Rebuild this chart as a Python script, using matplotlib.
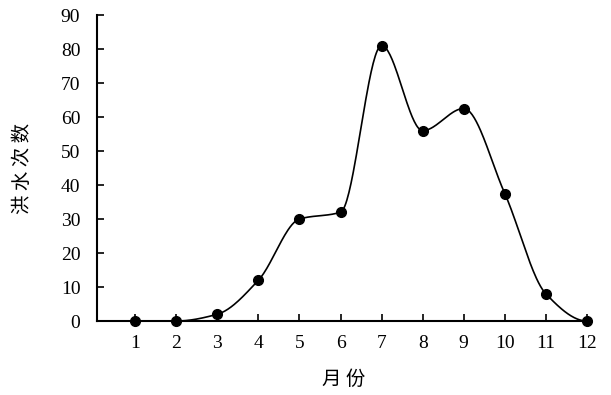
import matplotlib.pyplot as plt
import numpy as np

months = [1, 2, 3, 4, 5, 6, 7, 8, 9, 10, 11, 12]
floods = [0, 0, 2, 12, 30, 32, 81, 56, 62.5, 37.5, 8, 0]
y_ticks = [0, 10, 20, 30, 40, 50, 60, 70, 80, 90]
x_label = "月 份"
y_label = "洪 水 次 数"


def pchip_curve(xs, ys, n=40):
    """Shape-preserving cubic (Fritsch-Carlson), no overshoot at peaks."""
    x = np.asarray(xs, float)
    y = np.asarray(ys, float)
    h = np.diff(x)
    m = np.diff(y) / h
    d = np.zeros_like(y)
    for k in range(1, len(x) - 1):
        if m[k - 1] * m[k] > 0:
            w1 = 2 * h[k] + h[k - 1]
            w2 = h[k] + 2 * h[k - 1]
            d[k] = (w1 + w2) / (w1 / m[k - 1] + w2 / m[k])

    def end_slope(h0, h1, m0, m1):
        s = ((2 * h0 + h1) * m0 - h0 * m1) / (h0 + h1)
        if np.sign(s) != np.sign(m0):
            return 0.0
        if np.sign(m0) != np.sign(m1) and abs(s) > 3 * abs(m0):
            return 3 * m0
        return s

    d[0] = end_slope(h[0], h[1], m[0], m[1])
    d[-1] = end_slope(h[-1], h[-2], m[-1], m[-2])

    cx, cy = [], []
    t = np.linspace(0, 1, n)
    for k in range(len(x) - 1):
        h00 = 2 * t ** 3 - 3 * t ** 2 + 1
        h10 = t ** 3 - 2 * t ** 2 + t
        h01 = -2 * t ** 3 + 3 * t ** 2
        h11 = t ** 3 - t ** 2
        seg = h00 * y[k] + h10 * h[k] * d[k] + h01 * y[k + 1] + h11 * h[k] * d[k + 1]
        cx.extend(x[k] + t * h[k])
        cy.extend(seg)
    return np.array(cx), np.array(cy)


plt.rcParams['font.family'] = ['Liberation Serif', 'Noto Sans CJK SC']

fig = plt.figure(figsize=(6.11, 3.95), dpi=100)
ax = fig.add_axes([0.1588, 0.1873, 0.8085, 0.7747])

sx, sy = pchip_curve(months, floods)
ax.plot(sx, sy, color='black', lw=1.2, zorder=3)
ax.plot(months, floods, 'o', color='black', ms=7, zorder=4, clip_on=False)

ax.set_xlim(0.07, 12.1)
ax.set_ylim(0, 90)
ax.set_xticks(months)
ax.set_yticks(y_ticks)
ax.tick_params(direction='in', length=5, width=1.2, labelsize=14, pad=12)
ax.tick_params(axis='x', pad=10)

for side in ['top', 'right']:
    ax.spines[side].set_visible(False)
for side in ['left', 'bottom']:
    ax.spines[side].set_linewidth(1.5)

ax.set_xlabel(x_label, fontsize=14, family='Noto Sans CJK SC', labelpad=12)
ax.set_ylabel(y_label, fontsize=14, family='Noto Sans CJK SC', labelpad=20)

fig.savefig('out.png', dpi=100)
